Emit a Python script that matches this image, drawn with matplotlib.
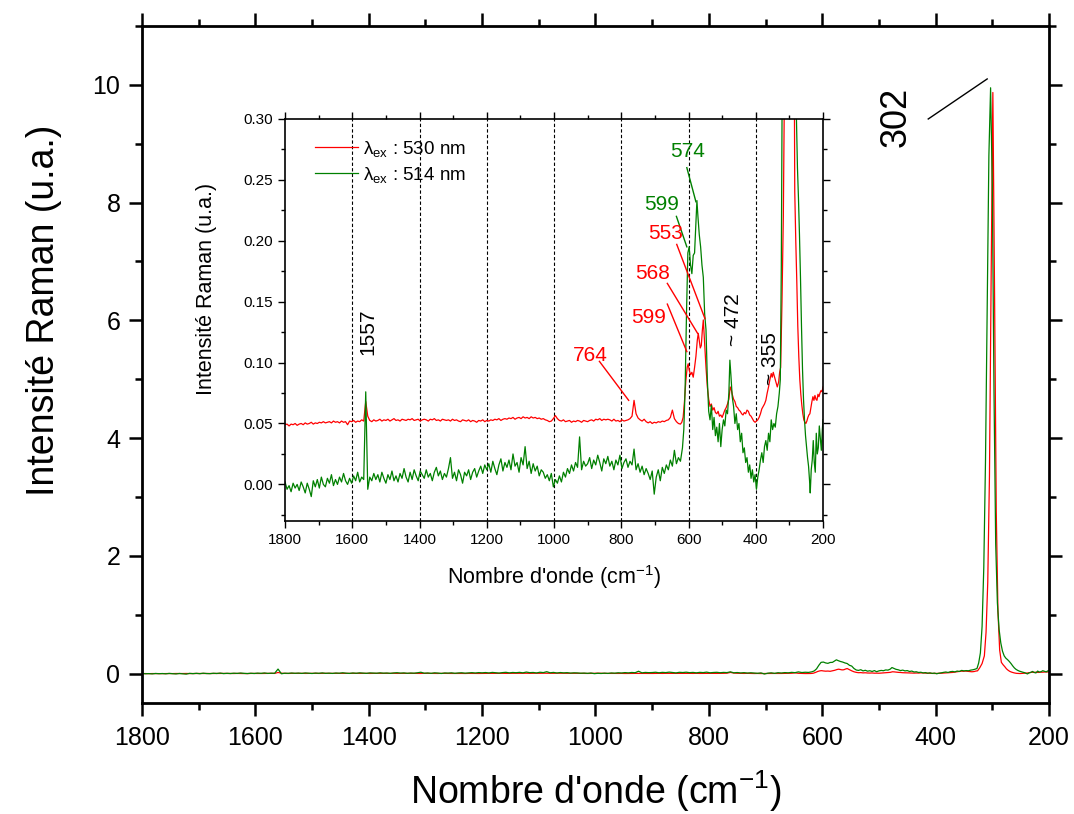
"""Raman spectra at two excitation wavelengths, full range plus zoomed inset."""
import numpy as np
import matplotlib
matplotlib.use("Agg")
import matplotlib.pyplot as plt
from matplotlib.ticker import MultipleLocator, FormatStrFormatter

plt.rcParams["font.family"] = ["Liberation Sans", "DejaVu Sans"]
plt.rcParams["mathtext.fontset"] = "custom"
plt.rcParams["mathtext.rm"] = "Liberation Sans"
plt.rcParams["mathtext.it"] = "Liberation Sans:italic"
plt.rcParams["mathtext.bf"] = "Liberation Sans:bold"

RED = "#ff0000"
GREEN = "#008000"
# the 530 nm trace is shifted up by this much in the inset only
RED_OFFSET = 0.05

# Flat part of both spectra, sampled every 6 cm-1 from 1800 down to 624.
base_wn = np.arange(1800, 623, -6)

base_green = [
    0.002, -0.004, -0.001, -0.006, 0.001, -0.003, 0.000, -0.005, 0.002, -0.002,
    -0.007, 0.001, -0.004, -0.010, 0.003, -0.002, 0.004, -0.003, 0.006, 0.000,
    -0.002, 0.005, 0.001, 0.008, -0.001, 0.004, 0.000, 0.006, 0.002, 0.009,
    0.003, 0.000, 0.005, 0.001, 0.007, 0.003, 0.010, 0.002, 0.006, 0.004,
    0.076, -0.004, 0.006, 0.003, 0.009, 0.004, 0.008, 0.002, 0.010, 0.005,
    0.001, 0.008, 0.004, 0.011, 0.003, 0.007, 0.002, 0.009, 0.005, 0.013,
    0.006, 0.002, 0.010, 0.004, 0.012, 0.007, 0.003, 0.011, 0.008, 0.005,
    0.012, 0.006, 0.009, 0.003, 0.010, 0.014, 0.007, 0.011, 0.004, 0.009,
    0.006, 0.013, 0.022, 0.005, 0.010, 0.003, 0.012, 0.008, 0.001, 0.010,
    0.007, 0.012, 0.004, 0.010, 0.013, 0.006, 0.011, 0.015, 0.009, 0.016,
    0.012, 0.017, 0.010, 0.019, 0.013, 0.008, 0.016, 0.021, 0.011, 0.018,
    0.014, 0.020, 0.012, 0.025, 0.015, 0.018, 0.010, 0.022, 0.016, 0.031,
    0.013, 0.019, 0.009, 0.017, 0.011, 0.015, 0.007, 0.012, 0.010, 0.005,
    0.008, 0.003, 0.009, -0.002, 0.004, 0.001, 0.007, 0.002, 0.010, 0.006,
    0.013, 0.009, 0.016, 0.011, 0.018, 0.014, 0.039, 0.012, 0.019, 0.015,
    0.017, 0.022, 0.013, 0.020, 0.016, 0.024, 0.018, 0.011, 0.021, 0.017,
    0.023, 0.015, 0.019, 0.012, 0.020, 0.016, 0.024, 0.013, 0.018, 0.021,
    0.014, 0.019, 0.016, 0.029, 0.012, 0.017, 0.010, 0.015, 0.008, 0.013,
    0.009, 0.004, 0.011, -0.008, 0.006, 0.012, 0.003, 0.014, 0.009, 0.016,
    0.012, 0.020, 0.015, 0.028, 0.017, 0.022, 0.019,
]

# 530 nm trace (offset included)
base_red = [
    0.0490, 0.0495, 0.0480, 0.0495, 0.0490, 0.0500, 0.0485, 0.0495, 0.0500, 0.0490,
    0.0505, 0.0495, 0.0500, 0.0510, 0.0495, 0.0505, 0.0500, 0.0510, 0.0505, 0.0515,
    0.0505, 0.0510, 0.0515, 0.0505, 0.0520, 0.0510, 0.0515, 0.0505, 0.0520, 0.0510,
    0.0515, 0.0490, 0.0520, 0.0515, 0.0525, 0.0510, 0.0520, 0.0515, 0.0530, 0.0520,
    0.0680, 0.0560, 0.0525, 0.0515, 0.0530, 0.0520, 0.0525, 0.0535, 0.0520, 0.0530,
    0.0525, 0.0535, 0.0520, 0.0530, 0.0540, 0.0525, 0.0530, 0.0520, 0.0535, 0.0530,
    0.0525, 0.0535, 0.0530, 0.0540, 0.0525, 0.0530, 0.0535, 0.0520, 0.0530, 0.0535,
    0.0530, 0.0520, 0.0535, 0.0530, 0.0540, 0.0525, 0.0530, 0.0520, 0.0535, 0.0530,
    0.0525, 0.0530, 0.0520, 0.0535, 0.0525, 0.0530, 0.0520, 0.0515, 0.0530, 0.0525,
    0.0520, 0.0530, 0.0515, 0.0525, 0.0520, 0.0510, 0.0525, 0.0520, 0.0530, 0.0515,
    0.0525, 0.0520, 0.0530, 0.0525, 0.0535, 0.0530, 0.0540, 0.0525, 0.0535, 0.0540,
    0.0535, 0.0545, 0.0540, 0.0550, 0.0535, 0.0545, 0.0550, 0.0540, 0.0555, 0.0545,
    0.0550, 0.0540, 0.0555, 0.0545, 0.0550, 0.0540, 0.0545, 0.0535, 0.0540, 0.0530,
    0.0525, 0.0515, 0.0520, 0.0540, 0.0565, 0.0540, 0.0525, 0.0520, 0.0530, 0.0515,
    0.0520, 0.0525, 0.0510, 0.0520, 0.0515, 0.0525, 0.0520, 0.0510, 0.0525, 0.0520,
    0.0515, 0.0525, 0.0530, 0.0520, 0.0535, 0.0530, 0.0540, 0.0525, 0.0535, 0.0530,
    0.0535, 0.0530, 0.0520, 0.0535, 0.0520, 0.0525, 0.0515, 0.0530, 0.0520, 0.0525,
    0.0530, 0.0540, 0.0560, 0.0690, 0.0580, 0.0545, 0.0530, 0.0520, 0.0535, 0.0515,
    0.0505, 0.0515, 0.0500, 0.0510, 0.0505, 0.0515, 0.0510, 0.0520, 0.0515, 0.0525,
    0.0530, 0.0550, 0.0610, 0.0540, 0.0515, 0.0500, 0.0495,
]

# Band region 620 -> 200 cm-1 (514 nm excitation)
band_wn_green = [
    618, 614, 610, 606, 602, 598, 594, 590, 586, 582,
    578, 575, 572, 568, 564, 560, 556, 552, 548, 544,
    540, 536, 532, 528, 524, 520, 516, 512, 508, 504,
    500, 496, 492, 488, 484, 480, 477, 474, 470, 466,
    462, 458, 454, 450, 446, 442, 438, 434, 430, 426,
    422, 418, 414, 410, 406, 402, 398, 394, 390, 386,
    382, 378, 374, 370, 366, 362, 358, 354, 350, 346,
    342, 338, 334, 330, 327, 324, 321, 318, 315, 312,
    309, 306, 303, 300, 297, 294, 291, 288, 285, 282,
    279, 276, 273, 270, 267, 264, 261, 258, 255, 252,
    249, 246, 243, 240, 238, 235, 232, 229, 226, 223,
    220, 217, 214, 211, 208, 205, 202, 200,
]
band_green = [
    0.030, 0.045, 0.080, 0.140, 0.190, 0.195, 0.180, 0.173, 0.188, 0.190,
    0.215, 0.233, 0.220, 0.205, 0.195, 0.180, 0.170, 0.140, 0.127, 0.086,
    0.060, 0.053, 0.065, 0.045, 0.055, 0.040, 0.047, 0.035, 0.050, 0.031,
    0.045, 0.053, 0.048, 0.061, 0.058, 0.075, 0.102, 0.090, 0.072, 0.064,
    0.050, 0.058, 0.045, 0.050, 0.035, 0.042, 0.026, 0.030, 0.018, 0.022,
    0.010, 0.016, 0.005, 0.012, 0.002, 0.008, -0.004, 0.006, 0.012, 0.020,
    0.026, 0.018, 0.031, 0.036, 0.028, 0.042, 0.035, 0.053, 0.045, 0.050,
    0.047, 0.058, 0.064, 0.075, 0.086, 0.180, 0.350, 0.800, 1.800, 3.600,
    6.200, 8.800, 9.950, 8.300, 4.800, 2.200, 1.200, 0.750, 0.520, 0.380,
    0.300, 0.260, 0.235, 0.205, 0.170, 0.130, 0.095, 0.070, 0.053, 0.040,
    0.031, 0.022, 0.015, 0.003, -0.007, 0.012, 0.020, 0.036, 0.018, 0.010,
    0.042, 0.025, 0.030, 0.048, 0.038, 0.028, 0.045, 0.053,
]

# Band region 620 -> 200 cm-1 (530 nm excitation, inset offset included)
band_wn_red = [
    620, 616, 612, 608, 604, 601, 598, 594, 590, 586,
    582, 578, 574, 571, 568, 565, 562, 559, 556, 552,
    548, 544, 540, 536, 532, 528, 524, 520, 516, 512,
    508, 504, 500, 496, 492, 488, 484, 480, 476, 473,
    470, 466, 462, 458, 454, 450, 446, 442, 438, 434,
    430, 426, 422, 418, 414, 410, 406, 402, 398, 394,
    390, 386, 382, 378, 374, 370, 366, 362, 358, 354,
    351, 348, 344, 340, 336, 332, 329, 326, 322, 318,
    314, 311, 308, 305, 302, 299, 296, 293, 290, 287,
    284, 281, 278, 275, 272, 269, 266, 263, 260, 257,
    254, 251, 248, 245, 242, 239, 236, 233, 230, 227,
    224, 221, 218, 215, 212, 209, 206, 203, 200,
]
band_red = [
    0.051, 0.055, 0.068, 0.085, 0.096, 0.099, 0.094, 0.090, 0.092, 0.088,
    0.096, 0.105, 0.118, 0.124, 0.118, 0.112, 0.114, 0.126, 0.135, 0.115,
    0.096, 0.080, 0.070, 0.064, 0.066, 0.061, 0.063, 0.059, 0.058, 0.060,
    0.056, 0.057, 0.055, 0.058, 0.061, 0.063, 0.066, 0.070, 0.080, 0.078,
    0.074, 0.070, 0.068, 0.064, 0.063, 0.061, 0.060, 0.058, 0.057, 0.059,
    0.058, 0.061, 0.060, 0.057, 0.056, 0.054, 0.052, 0.051, 0.052, 0.053,
    0.055, 0.058, 0.062, 0.064, 0.066, 0.069, 0.075, 0.080, 0.086, 0.091,
    0.088, 0.092, 0.088, 0.084, 0.080, 0.084, 0.092, 0.096, 0.150, 0.220,
    0.350, 0.750, 1.600, 3.400, 6.800, 9.920, 6.500, 2.800, 1.100, 0.450,
    0.240, 0.200, 0.167, 0.130, 0.105, 0.086, 0.074, 0.065, 0.058, 0.053,
    0.051, 0.050, 0.052, 0.055, 0.057, 0.058, 0.063, 0.068, 0.072, 0.069,
    0.073, 0.070, 0.069, 0.074, 0.072, 0.075, 0.077, 0.076, 0.080,
]

wn_red = np.concatenate([base_wn, band_wn_red])
int_red_inset = np.concatenate([base_red, band_red])
int_red = int_red_inset - RED_OFFSET
wn_green = np.concatenate([base_wn, band_wn_green])
int_green = np.concatenate([base_green, band_green])

legend_labels = ["λ$_{\\mathrm{ex}}$ : 530 nm", "λ$_{\\mathrm{ex}}$ : 514 nm"]
inset_gridlines = [1600, 1400, 1200, 1000, 800, 600, 400]
xlabel = "Nombre d'onde (cm$^{-1}$)"
ylabel = "Intensité Raman (u.a.)"

fig = plt.figure(figsize=(10.74, 8.14), dpi=100)

# Main panel
ax = fig.add_axes([0.1322, 0.1364, 0.8445, 0.8317])
ax.plot(wn_red, int_red, color=RED, lw=0.9)
ax.plot(wn_green, int_green, color=GREEN, lw=0.9)
ax.set_xlim(1800, 200)
ax.set_ylim(-0.5, 11)
ax.xaxis.set_major_locator(MultipleLocator(200))
ax.xaxis.set_minor_locator(MultipleLocator(100))
ax.yaxis.set_major_locator(MultipleLocator(2))
ax.yaxis.set_minor_locator(MultipleLocator(1))
ax.tick_params(which="both", direction="out", top=True, right=True,
               width=1.8, labelsize=18)
ax.tick_params(which="major", length=9.5)
ax.tick_params(which="minor", length=5)
ax.tick_params(axis="x", pad=7)
ax.tick_params(axis="y", pad=6)
for sp in ax.spines.values():
    sp.set_linewidth(2)
ax.set_xlabel(xlabel, fontsize=27, labelpad=13)
ax.set_ylabel(ylabel, fontsize=27)
ax.yaxis.set_label_coords(-0.088, 0.58)

ax.text(469, 9.46, "302", rotation=90, fontsize=26, ha="center", va="center")
ax.plot([413, 309], [9.42, 10.10], color="black", lw=1)

# Inset zoom
axin = fig.add_axes([0.2654, 0.3600, 0.5009, 0.4939])
for x in inset_gridlines:
    axin.axvline(x, color="black", ls=(0, (3, 2)), lw=0.8, zorder=0)
axin.plot(wn_red, int_red_inset, color=RED, lw=0.9, label=legend_labels[0])
axin.plot(wn_green, int_green, color=GREEN, lw=0.9, label=legend_labels[1])
axin.set_xlim(1800, 200)
axin.set_ylim(-0.03, 0.30)
axin.xaxis.set_major_locator(MultipleLocator(200))
axin.xaxis.set_minor_locator(MultipleLocator(100))
axin.yaxis.set_major_locator(MultipleLocator(0.05))
axin.yaxis.set_minor_locator(MultipleLocator(0.025))
axin.yaxis.set_major_formatter(FormatStrFormatter("%.2f"))
axin.tick_params(which="both", direction="out", top=True, right=True,
                 width=1, labelsize=11, pad=4)
axin.tick_params(which="major", length=5)
axin.tick_params(which="minor", length=3)
for sp in axin.spines.values():
    sp.set_linewidth(1.2)
axin.set_xlabel(xlabel, fontsize=15.5, labelpad=11)
axin.set_ylabel(ylabel, fontsize=15.5)
axin.yaxis.set_label_coords(-0.126, 0.577)
axin.legend(loc="upper left", bbox_to_anchor=(0.055, 0.95), frameon=False,
            fontsize=13.5, handlelength=2.3, labelspacing=0.3,
            borderpad=0, borderaxespad=0, handletextpad=0.3)

# band assignments
fs = 15
axin.text(1553, 0.125, "1557", rotation=90, fontsize=fs, ha="center", va="center")
axin.text(893, 0.106, "764", color=RED, fontsize=fs, ha="center", va="center")
axin.plot([865, 778], [0.101, 0.069], color=RED, lw=1)
axin.text(719, 0.137, "599", color=RED, fontsize=fs, ha="center", va="center")
axin.plot([663, 605], [0.148, 0.109], color=RED, lw=1)
axin.text(706, 0.173, "568", color=RED, fontsize=fs, ha="center", va="center")
axin.plot([663, 573], [0.165, 0.124], color=RED, lw=1)
axin.text(668, 0.206, "553", color=RED, fontsize=fs, ha="center", va="center")
axin.plot([635, 551], [0.197, 0.136], color=RED, lw=1)
axin.text(680, 0.230, "599", color=GREEN, fontsize=fs, ha="center", va="center")
axin.plot([636, 605], [0.220, 0.195], color=GREEN, lw=1)
axin.text(602, 0.273, "574", color=GREEN, fontsize=fs, ha="center", va="center")
axin.plot([605, 578], [0.260, 0.232], color=GREEN, lw=1)
axin.text(467, 0.135, "~ 472", rotation=90, fontsize=fs, ha="center", va="center")
axin.text(355, 0.103, "~ 355", rotation=90, fontsize=fs, ha="center", va="center")

fig.savefig("out.png", dpi=100)
